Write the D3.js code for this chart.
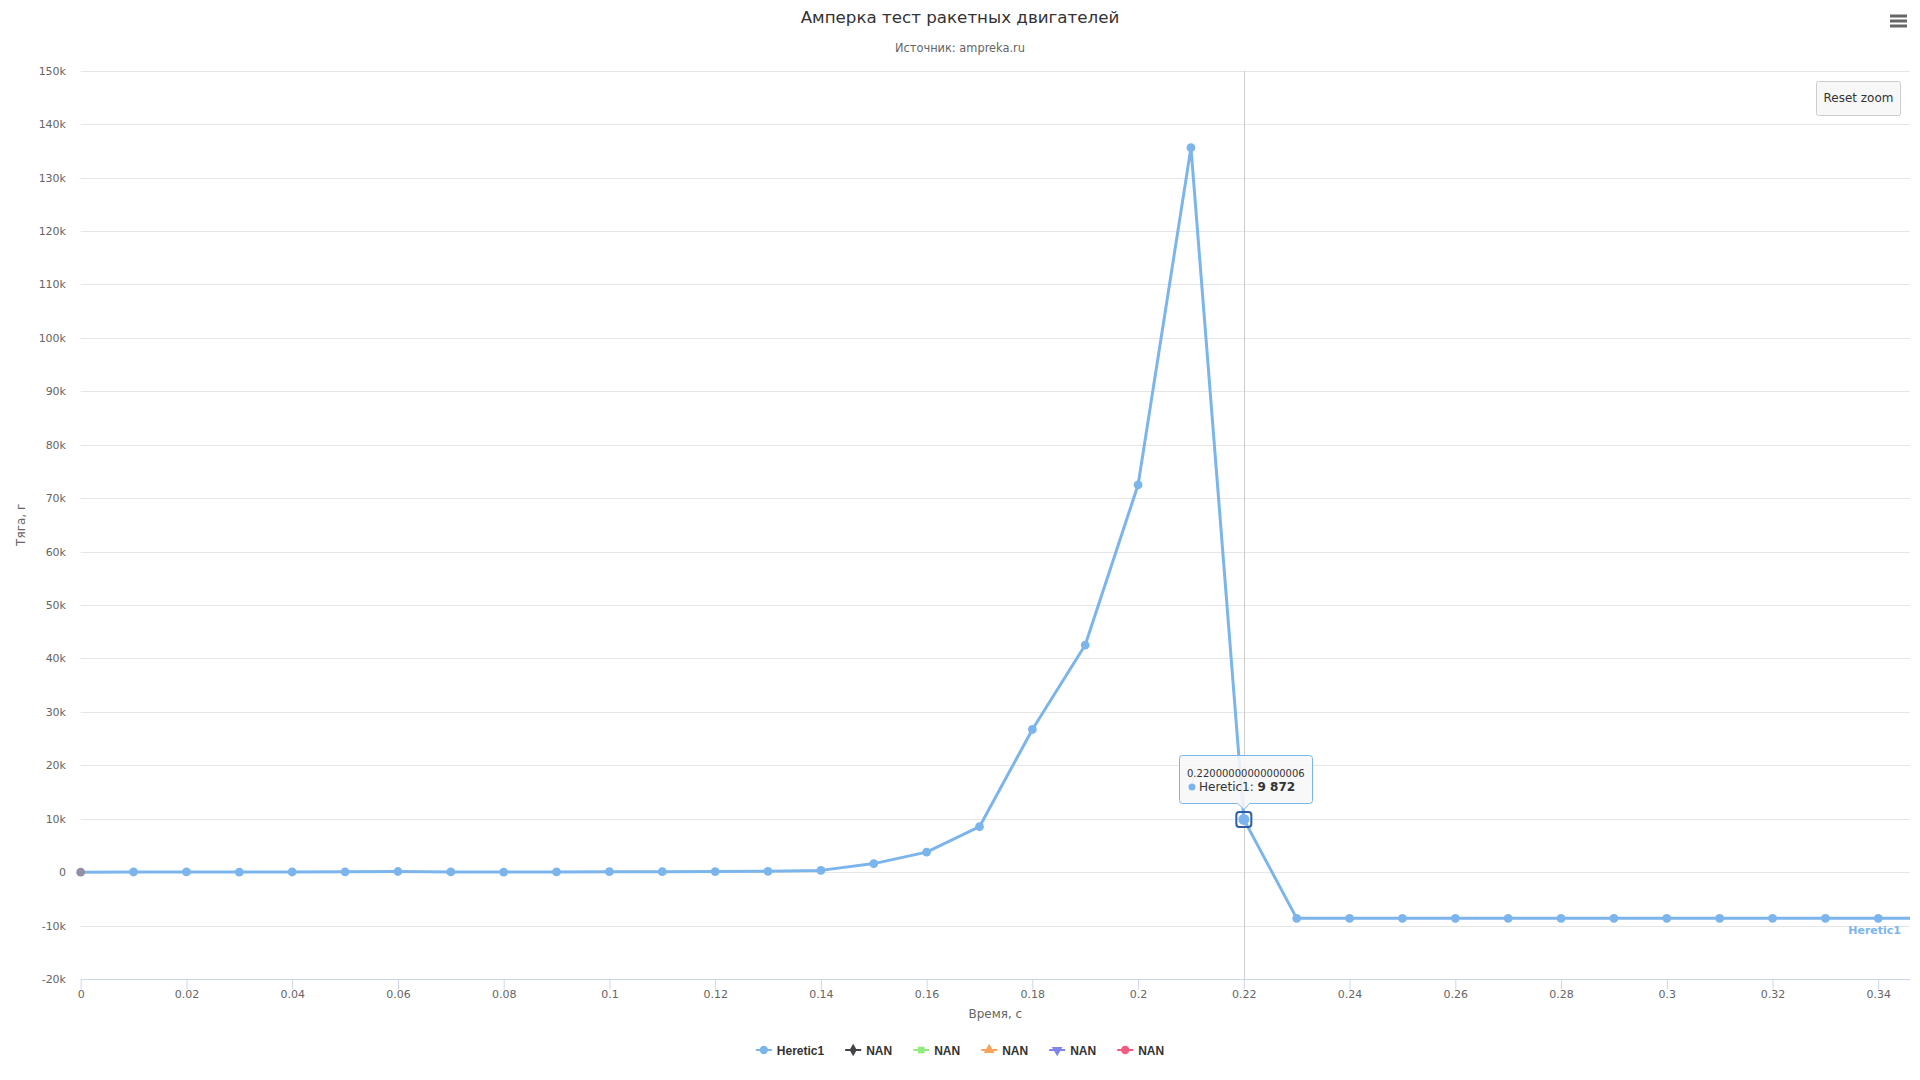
<!DOCTYPE html>
<html><head><meta charset="utf-8">
<script src="https://cdn.jsdelivr.net/npm/d3@7"></script>
<style>
html,body{margin:0;padding:0;background:#fff;}
svg{display:block;font-family:"DejaVu Sans",Arial,sans-serif;}
</style></head>
<body><svg id="c" width="1920" height="1080"></svg>
<script>
const titleText = "Амперка тест ракетных двигателей";
const subtitleText = "Источник: ampreka.ru";
const xTitle = "Время, с";
const yTitle = "Тяга, г";
const time = [0,0.01,0.02,0.03,0.04,0.05,0.06,0.07,0.08,0.09,0.10,0.11,0.12,0.13,0.14,0.15,0.16,0.17,0.18,0.19,0.20,0.21,0.22,0.23,0.24,0.25,0.26,0.27,0.28,0.29,0.30,0.31,0.32,0.33,0.34,0.35];
const thrust = [0,30,40,20,30,50,120,40,20,40,80,90,110,160,330,1600,3750,8500,26700,42500,72500,135600,9872,-8650,-8650,-8650,-8650,-8650,-8650,-8650,-8650,-8650,-8650,-8650,-8650,-8650];
const seriesNames = ["Heretic1","NAN","NAN","NAN","NAN","NAN"];
const seriesColors = ["#7cb5ec","#434348","#90ed7d","#f7a35c","#8085e9","#f15c80"];
const seriesSymbols = ["circle","diamond","square","triangle","triangle-down","circle"];
const xTickValues = [0,0.02,0.04,0.06,0.08,0.1,0.12,0.14,0.16,0.18,0.2,0.22,0.24,0.26,0.28,0.3,0.32,0.34];
const xTickLabels = ["0","0.02","0.04","0.06","0.08","0.1","0.12","0.14","0.16","0.18","0.2","0.22","0.24","0.26","0.28","0.3","0.32","0.34"];
const yTickValues = [-20000,-10000,0,10000,20000,30000,40000,50000,60000,70000,80000,90000,100000,110000,120000,130000,140000,150000];
const yTickLabels = ["-20k","-10k","0","10k","20k","30k","40k","50k","60k","70k","80k","90k","100k","110k","120k","130k","140k","150k"];
const hoverIndex = 22;
const hoverHeader = "0.22000000000000006";
const hoverValue = "9 872";

const svg = d3.select("#c");
const L=80.7, R=1910, T=70.7, B=979;
const x = d3.scaleLinear().domain([0,0.346]).range([L,R]);
const y = d3.scaleLinear().domain([-20000,150000]).range([B,T]);

// title
svg.append("text").attr("x",960).attr("y",23).attr("text-anchor","middle")
  .attr("font-size",16.7).attr("fill","#333333").text(titleText);
svg.append("text").attr("x",960).attr("y",52).attr("text-anchor","middle")
  .attr("font-size",11.4).attr("fill","#666666").text(subtitleText);

// grid
const g = svg.append("g");
g.selectAll("line.grid").data(yTickValues.filter(v=>v>-20000)).enter().append("line")
  .attr("x1",L).attr("x2",R).attr("y1",d=>Math.round(y(d))+0.5).attr("y2",d=>Math.round(y(d))+0.5)
  .attr("stroke","#e6e6e6").attr("stroke-width",1);

// y labels
g.selectAll("text.yl").data(yTickValues).enter().append("text")
  .attr("x",66).attr("y",d=>y(d)+4).attr("text-anchor","end")
  .attr("font-size",11).attr("fill","#666666").text((d,i)=>yTickLabels[i]);

// x axis
const xa = svg.append("g").attr("transform",`translate(0,${Math.round(B)+0.5})`);
xa.call(d3.axisBottom(x).tickValues(xTickValues).tickSize(10).tickPadding(1).tickFormat((d,i)=>xTickLabels[i]));
xa.select(".domain").attr("stroke","#ccd6eb").attr("d",`M${L},0H${R}`);
xa.selectAll(".tick line").attr("stroke","#ccd6eb");
xa.selectAll(".tick text").attr("fill","#666666").attr("font-size",11).attr("font-family","DejaVu Sans");

// axis titles
svg.append("text").attr("x",(L+R)/2).attr("y",1018).attr("text-anchor","middle")
  .attr("font-size",12).attr("fill","#666666").text(xTitle);
svg.append("text").attr("transform",`translate(25,${(T+B)/2}) rotate(-90)`).attr("text-anchor","middle")
  .attr("font-size",12).attr("fill","#666666").text(yTitle);

// crosshair
svg.append("line").attr("x1",Math.round(x(time[hoverIndex]))+0.5).attr("x2",Math.round(x(time[hoverIndex]))+0.5)
  .attr("y1",T).attr("y2",B).attr("stroke","#cccccc").attr("stroke-width",1);

// clip
svg.append("clipPath").attr("id","clip").append("rect").attr("x",L-6).attr("y",T-6).attr("width",R-L+6).attr("height",B-T+12);
const pg = svg.append("g").attr("clip-path","url(#clip)");
const data = time.map((t,i)=>({t,v:thrust[i]}));
pg.append("path").datum(data).attr("fill","none").attr("stroke",seriesColors[0]).attr("stroke-width",3)
  .attr("stroke-linejoin","round").attr("d",d3.line().x(d=>x(d.t)).y(d=>y(d.v)));
pg.selectAll("circle.m").data(data).enter().append("circle")
  .attr("cx",d=>x(d.t)).attr("cy",d=>y(d.v)).attr("r",4.4).attr("fill",(d,i)=>i===0?"#928fa8":seriesColors[0]);

// series end label
svg.append("text").attr("x",1901).attr("y",934).attr("text-anchor","end").attr("font-size",11)
  .attr("font-weight","bold").attr("fill",seriesColors[0]).text(seriesNames[0]);

// hover marker
const hx = x(time[hoverIndex]), hy = y(thrust[hoverIndex]);
svg.append("circle").attr("cx",hx).attr("cy",hy).attr("r",5.5).attr("fill",seriesColors[0]);
svg.append("rect").attr("x",hx-7.5).attr("y",hy-7.5).attr("width",15).attr("height",15).attr("rx",3)
  .attr("fill","none").attr("stroke","#2f5da8").attr("stroke-width",2);

// tooltip
const tx0=1179.5, tx1=1312.5, ty0=755.5, ty1=803.5, tipX=hx, tipY=hy-10;
const tt = svg.append("g");
tt.append("path").attr("d",`M${tx0+3},${ty0}H${tx1-3}Q${tx1},${ty0} ${tx1},${ty0+3}V${ty1-3}Q${tx1},${ty1} ${tx1-3},${ty1}H${tipX+6}L${tipX},${tipY}L${tipX-6},${ty1}H${tx0+3}Q${tx0},${ty1} ${tx0},${ty1-3}V${ty0+3}Q${tx0},${ty0} ${tx0+3},${ty0}Z`)
  .attr("fill","rgba(247,247,247,0.88)").attr("stroke",seriesColors[0]).attr("stroke-width",1);
tt.append("text").attr("x",1187).attr("y",776.5).attr("font-size",10).attr("fill","#333333").text(hoverHeader);
tt.append("circle").attr("cx",1192).attr("cy",787).attr("r",3.5).attr("fill",seriesColors[0]);
const t2 = tt.append("text").attr("x",1199).attr("y",791).attr("font-size",12).attr("fill","#333333");
t2.append("tspan").text(seriesNames[0]+": ");
t2.append("tspan").attr("font-weight","bold").text(hoverValue);

// reset zoom button
svg.append("rect").attr("x",1816.5).attr("y",81.5).attr("width",84).attr("height",34).attr("rx",2)
  .attr("fill","#f7f7f7").attr("stroke","#cccccc").attr("stroke-width",1);
svg.append("text").attr("x",1858.5).attr("y",101.5).attr("text-anchor","middle").attr("font-size",12)
  .attr("fill","#333333").text("Reset zoom");

// hamburger
[16,21,26].forEach(yy=>svg.append("line").attr("x1",1890).attr("x2",1907).attr("y1",yy).attr("y2",yy)
  .attr("stroke","#666666").attr("stroke-width",3));

// legend
const lg = svg.append("g");
const sym = {circle:d3.symbolCircle,diamond:d3.symbolDiamond,square:d3.symbolSquare,triangle:d3.symbolTriangle};
let cx = 0; const ly = 1050;
seriesNames.forEach((n,i)=>{
  const it = lg.append("g").attr("transform",`translate(${cx},0)`);
  it.append("line").attr("x1",0).attr("x2",16).attr("y1",ly).attr("y2",ly).attr("stroke",seriesColors[i]).attr("stroke-width",2);
  const s = seriesSymbols[i];
  if(s==="triangle-down"){
    it.append("path").attr("d",d3.symbol(d3.symbolTriangle,50)()).attr("transform",`translate(8,${ly}) rotate(180)`).attr("fill",seriesColors[i]);
  } else {
    it.append("path").attr("d",d3.symbol(sym[s],s==="circle"?55:(s==="triangle"?50:45))()).attr("transform",`translate(8,${ly})`).attr("fill",seriesColors[i]);
  }
  const tx = it.append("text").attr("x",21).attr("y",ly+4.5).attr("font-size",12).attr("font-weight","bold")
    .attr("font-family","'Liberation Sans',Arial,sans-serif").attr("fill","#333333").text(n);
  const w = 21 + tx.node().getComputedTextLength();
  cx += w + 21;
});
const totalW = cx - 21;
lg.attr("transform",`translate(${960-totalW/2},0)`);
</script></body></html>
